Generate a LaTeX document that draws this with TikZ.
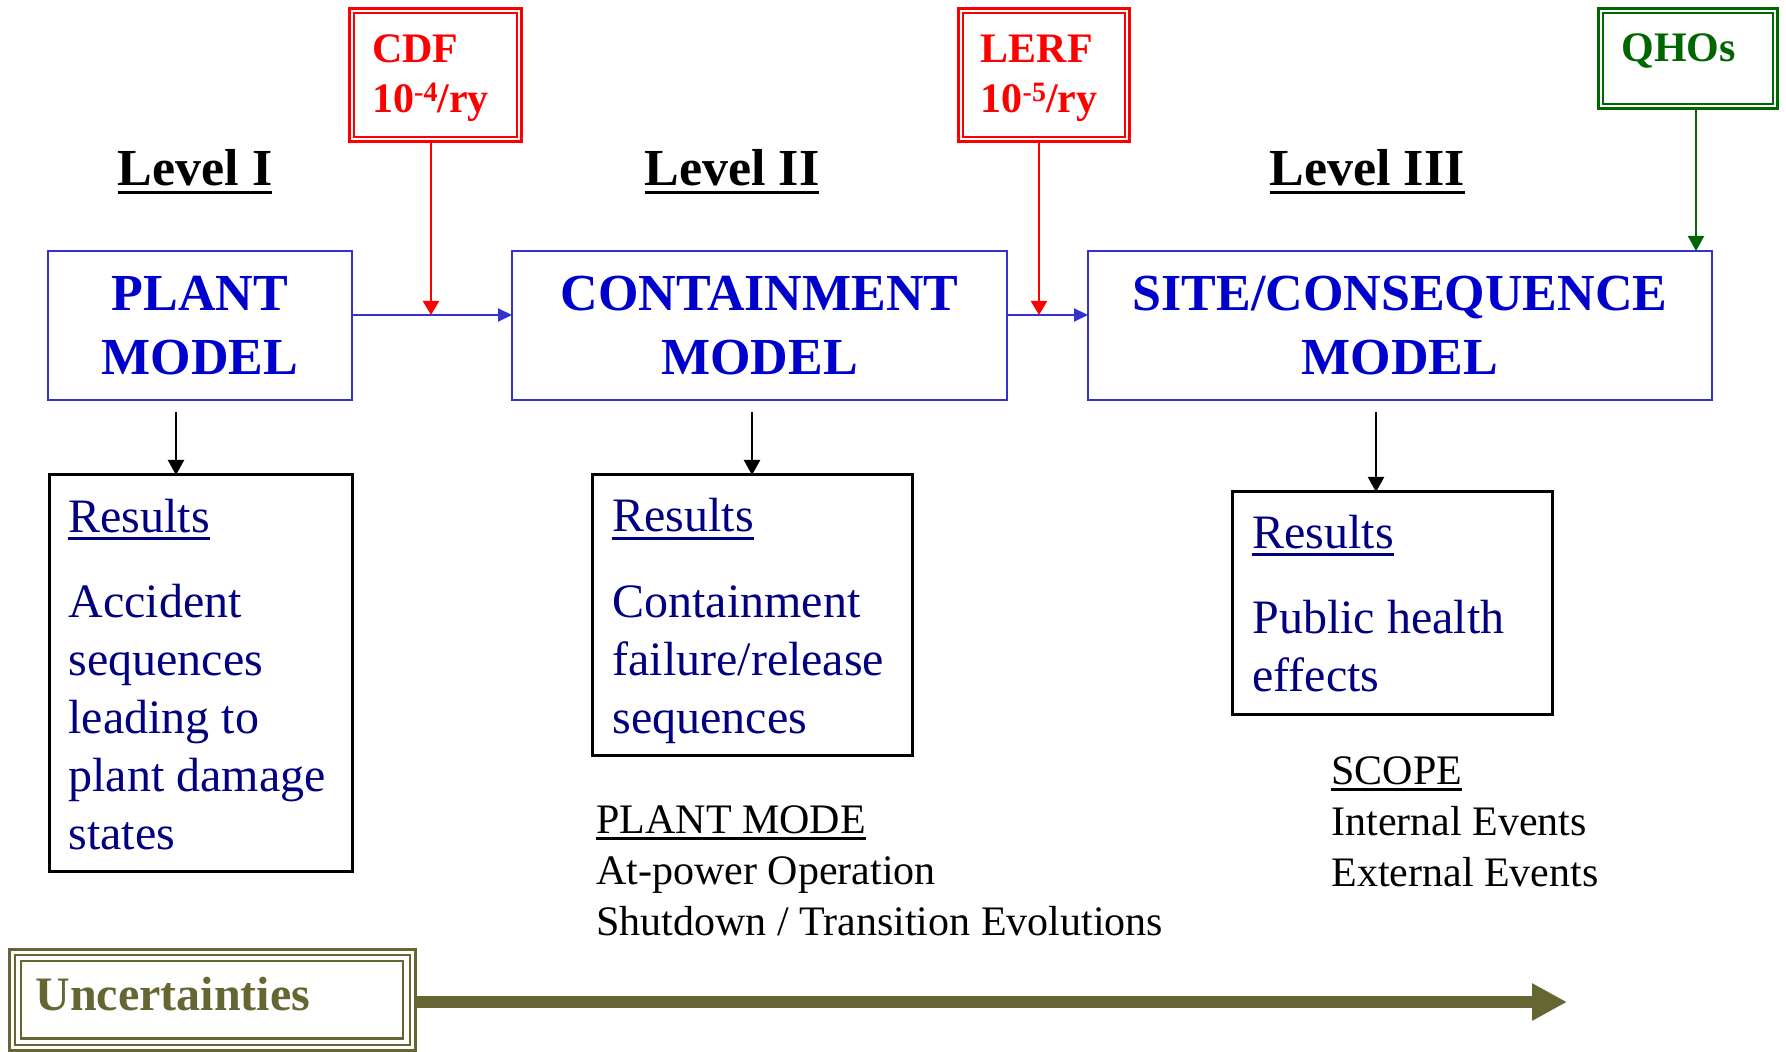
\documentclass[tikz,border=0pt]{standalone}
\usepackage{fontspec}
\setmainfont{Liberation Serif}
\usetikzlibrary{arrows.meta,calc}
\definecolor{ppblue}{HTML}{3333CC}
\definecolor{pptext}{HTML}{0000CC}
\definecolor{ppnavy}{HTML}{000080}
\definecolor{ppgreen}{HTML}{006600}
\definecolor{ppolive}{HTML}{666633}
\newcommand{\myul}[1]{\leavevmode\setbox0=\hbox{#1}\rlap{\rule[-0.16em]{\wd0}{0.065em}}\box0}
\newcommand{\mysup}[1]{\raisebox{5.5pt}{\fontsize{14}{14}\selectfont #1}}
\begin{document}
\begin{tikzpicture}[x=0.5pt,y=-0.5pt,
  model/.style={draw=ppblue, line width=1pt, outer sep=0pt, text=pptext, font=\fontsize{26}{32}\selectfont\bfseries, align=center, inner sep=0pt},
  resbox/.style={draw=black, line width=1.5pt, outer sep=0pt, inner sep=0pt},
  restext/.style={text=ppnavy, font=\fontsize{24}{29}\selectfont, align=left, inner sep=0pt, anchor=base west},
  plaintext/.style={text=black, font=\fontsize{21}{25.5}\selectfont, align=left, inner sep=0pt, anchor=base west},
  levellabel/.style={font=\fontsize{26}{30}\selectfont\bfseries, inner sep=0pt, anchor=base},
  limitbox/.style={draw=red, line width=1.5pt, outer sep=0pt, text=red, font=\fontsize{21}{25}\selectfont\bfseries, align=left, inner sep=0pt},
  blueconn/.style={draw=ppblue, line width=1pt, -{Triangle[length=7pt,width=6.5pt]}},
  redconn/.style={draw=red, line width=1.2pt, -{Triangle[length=7pt,width=8pt]}},
  blackconn/.style={draw=black, line width=1.1pt, -{Triangle[length=7.5pt,width=8pt]}},
  greenconn/.style={draw=ppgreen, line width=1pt, -{Triangle[length=7.5pt,width=8pt]}}
]
\path[use as bounding box, fill=white] (0,0) rectangle (1786,1052);

% level labels
\node[levellabel] (l1) at (195,186) {\myul{Level I}};
\node[levellabel] (l2) at (732,186) {\myul{Level II}};
\node[levellabel] (l3) at (1367,186) {\myul{Level III}};

% model boxes
\node[model, minimum width=152pt, minimum height=74.5pt] (plant) at (200,325.5) {PLANT\\MODEL};
\node[model, minimum width=247.5pt, minimum height=74.5pt] (cont) at (759.5,325.5) {CONTAINMENT\\MODEL};
\node[model, minimum width=312pt, minimum height=74.5pt] (site) at (1400,325.5) {SITE/CONSEQUENCE\\MODEL};

% limit boxes
\node[limitbox, minimum width=86pt, minimum height=66.5pt] (cdf) at (435.5,75) {\rule{0pt}{17pt}CDF\\10\mysup{-4}/ry\kern5pt};
\draw[red, line width=1pt] ($(cdf.north west)+(4.5,4.5)$) rectangle ($(cdf.south east)+(-4.5,-4.5)$);
\node[limitbox, minimum width=85.5pt, minimum height=66.5pt] (lerf) at (1044,75) {\rule{0pt}{17pt}LERF\\10\mysup{-5}/ry\kern5pt};
\draw[red, line width=1pt] ($(lerf.north west)+(4.5,4.5)$) rectangle ($(lerf.south east)+(-4.5,-4.5)$);
\node[draw=ppgreen, line width=1.5pt, outer sep=0pt, inner sep=0pt, minimum width=89.5pt, minimum height=50pt] (qho) at (1688,58.5) {};
\draw[ppgreen, line width=1pt] ($(qho.north west)+(4.5,4.5)$) rectangle ($(qho.south east)+(-4.5,-4.5)$);
\node[text=ppgreen, font=\fontsize{21}{25}\selectfont\bfseries, inner sep=0pt, anchor=base west] (qhot) at (1621,62) {QHOs};

% connectors between models
\coordinate (j1) at (431,315);
\coordinate (j2) at (1039,315);
\coordinate (g1) at (1696,110);
\draw[blueconn] (plant.east |- j1) -- (cont.west |- j1);
\draw[blueconn] (cont.east |- j2) -- (site.west |- j2);
\draw[redconn] (cdf.south -| j1) -- (j1);
\draw[redconn] (lerf.south -| j2) -- (j2);
\draw[greenconn] (qho.south -| g1) -- (site.north -| g1);

% results boxes
\node[resbox, minimum width=151.5pt, minimum height=198pt] (r1) at (200.5,673) {};
\node[resbox, minimum width=160pt, minimum height=140pt] (r2) at (752,615) {};
\node[resbox, minimum width=160pt, minimum height=111pt] (r3) at (1392,603) {};
\node[restext] (t1) at (68,849) {\myul{Results}\\[13.5pt]Accident\\sequences\\leading to\\plant damage\\states};
\node[restext] (t2) at (612,733) {\myul{Results}\\[13.5pt]Containment\\failure/release\\sequences};
\node[restext] (t3) at (1252,691) {\myul{Results}\\[13.5pt]Public health\\effects};

\coordinate (b1) at (176,412);
\coordinate (b2) at (752,412);
\coordinate (b3) at (1376,412);
\draw[blackconn] (b1) -- (b1 |- r1.north);
\draw[blackconn] (b2) -- (b2 |- r2.north);
\draw[blackconn] (b3) -- (b3 |- r3.north);

% plant mode and scope
\node[plaintext] (pm) at (596,935) {\myul{PLANT MODE}\\At-power Operation\\Shutdown / Transition Evolutions};
\node[plaintext] (sc) at (1331,886) {\myul{SCOPE}\\Internal Events\\External Events};

% uncertainties
\node[draw=ppolive, line width=1.5pt, outer sep=0pt, inner sep=0pt, minimum width=203pt, minimum height=50.75pt] (unc) at (212,999.75) {};
\draw[ppolive, line width=1pt] ($(unc.north west)+(5.5,5.5)$) rectangle ($(unc.south east)+(-5.5,-5.5)$);
\draw[ppolive, line width=1.2pt] ($(unc.north west)+(12,12)$) rectangle ($(unc.south east)+(-12,-12)$);
\node[text=ppolive, font=\fontsize{24}{28}\selectfont\bfseries, inner sep=0pt, anchor=base west] (unct) at (35,1010) {Uncertainties};
\coordinate (ue) at (1567,1002);
\draw[ppolive, line width=6pt, -{Triangle[length=17.5pt,width=17.5pt]}] (unc.east |- ue) -- (ue);
\end{tikzpicture}
\end{document}
